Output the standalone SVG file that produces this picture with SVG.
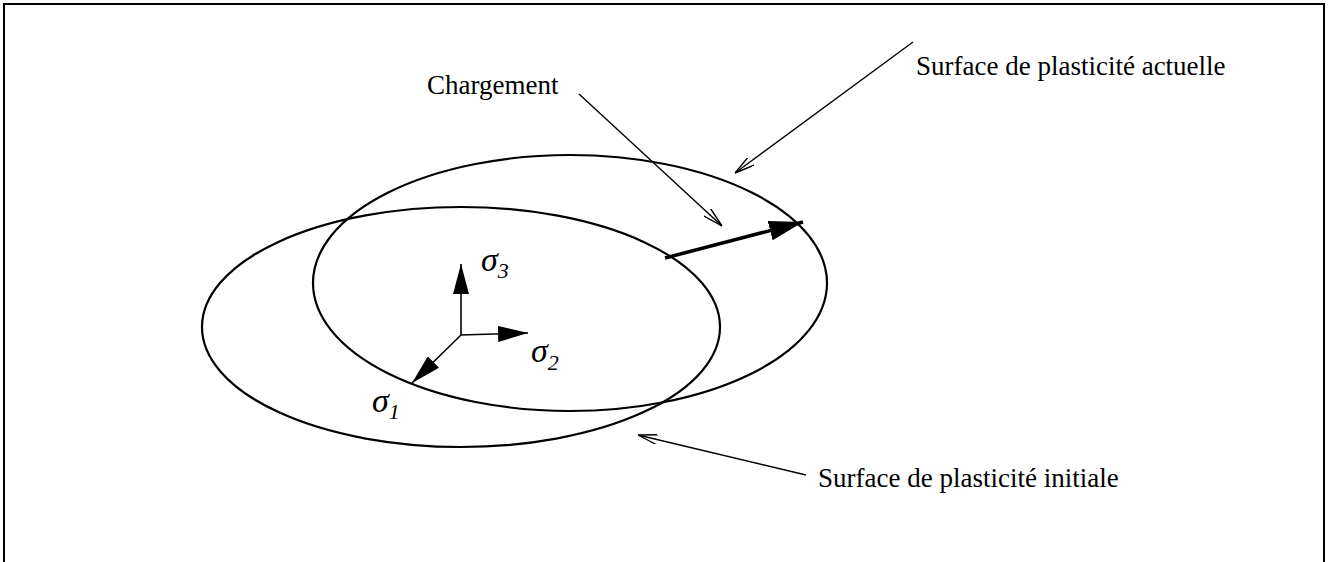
<svg xmlns="http://www.w3.org/2000/svg" width="1333" height="562" viewBox="0 0 1333 562">
<style>
.curve{fill:none;stroke:#000;stroke-width:2.2}
.lead{fill:none;stroke:#000;stroke-width:1.4}
.lbl{font-family:"Liberation Serif","Times New Roman",serif;font-size:27px;fill:#000}
.sig{font-family:"Liberation Serif","Times New Roman",serif;font-style:italic;font-size:34px;fill:#000}
.sub{font-family:"Liberation Serif","Times New Roman",serif;font-style:italic;font-size:22px;fill:#000}
</style>
<defs>
<marker id="open" viewBox="0 0 20 10" refX="20" refY="5" markerWidth="20" markerHeight="10" markerUnits="userSpaceOnUse" orient="auto">
<path d="M0,0 L20,5 L0,10" fill="none" stroke="#000" stroke-width="1.4"/>
</marker>
<marker id="solid" viewBox="0 0 30 16" refX="30" refY="8" markerWidth="30" markerHeight="16" markerUnits="userSpaceOnUse" orient="auto">
<path d="M0,0 L30,8 L0,16 z" fill="#000"/>
</marker>
<marker id="big" viewBox="0 0 34 20" refX="34" refY="10" markerWidth="34" markerHeight="20" markerUnits="userSpaceOnUse" orient="auto">
<path d="M0,0 L34,10 L0,20 z" fill="#000"/>
</marker>
</defs>
<rect width="1333" height="562" fill="#fff"/>
<path d="M4,562 L4,4 L1324,4 L1324,562" fill="none" stroke="#000" stroke-width="2"/>
<g id="surface-initiale">
<ellipse class="curve" cx="461" cy="327" rx="259" ry="120"/>
</g>
<g id="surface-actuelle">
<ellipse class="curve" cx="570" cy="283" rx="257" ry="128"/>
</g>
<g id="axes">
<text class="sig" x="481" y="271">σ<tspan class="sub" dy="7">3</tspan></text>
<text class="sig" x="531" y="362">σ<tspan class="sub" dy="8">2</tspan></text>
<text class="sig" x="372" y="412">σ<tspan class="sub" dy="7">1</tspan></text>
</g>
<g id="labels">
<text class="lbl" x="427" y="94">Chargement</text>
<text class="lbl" x="916" y="75">Surface de plasticité actuelle</text>
<text class="lbl" x="818" y="487">Surface de plasticité initiale</text>
</g>
<g id="connectors">
<line x1="461" y1="335" x2="461" y2="264" stroke="#000" stroke-width="1.6" marker-end="url(#solid)"/>
<line x1="461" y1="335" x2="528" y2="333" stroke="#000" stroke-width="1.6" marker-end="url(#solid)"/>
<line x1="461" y1="335" x2="412" y2="383" stroke="#000" stroke-width="1.6" marker-end="url(#solid)"/>
<line x1="665" y1="258" x2="803" y2="222" stroke="#000" stroke-width="3.5" marker-end="url(#big)"/>
<line class="lead" x1="579" y1="94" x2="722" y2="226" marker-end="url(#open)"/>
<line class="lead" x1="913" y1="42" x2="735" y2="173" marker-end="url(#open)"/>
<line class="lead" x1="806" y1="475" x2="638" y2="435" marker-end="url(#open)"/>
</g>
</svg>
